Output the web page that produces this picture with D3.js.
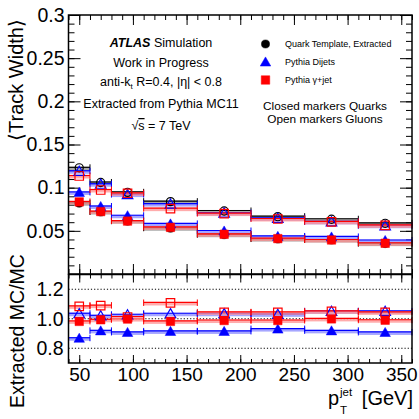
<!DOCTYPE html>
<html><head><meta charset="utf-8">
<script src="https://cdn.jsdelivr.net/npm/d3@7"></script>
<style>
body{margin:0;background:#fff;}
svg{display:block;font-family:"Liberation Sans",Arial,Helvetica,sans-serif;}
</style></head>
<body><svg id="c" width="419" height="419"></svg>
<script>
// ---- data ----
const binLo = [40, 60, 80, 110, 160, 210, 260, 310];
const binHi = [60, 80, 110, 160, 210, 260, 310, 360];
const binCenter = [50, 70, 95, 135, 185, 235, 285, 335];
// top panel: <Track Width>
const quarkExtracted = [0.082, 0.0718, 0.0612, 0.053, 0.0455, 0.0405, 0.0394, 0.0352];
const gluonExtracted = [0.123, 0.106, 0.0946, 0.0838, 0.073, 0.0664, 0.0634, 0.0587];
const quarkDijet = [0.0945, 0.0782, 0.0675, 0.058, 0.0498, 0.0435, 0.0429, 0.0388];
const gluonDijet = [0.119, 0.104, 0.092, 0.081, 0.0706, 0.0645, 0.0604, 0.0559];
const quarkGammaJet = [0.0835, 0.0723, 0.0613, 0.054, 0.046, 0.041, 0.0394, 0.0356];
const gluonGammaJet = [0.1135, 0.0973, 0.0935, 0.0757, 0.070, 0.0637, 0.0604, 0.0563];
// ratio panel: Extracted MC / MC
const ratioQuarkDijet = [0.868, 0.918, 0.907, 0.914, 0.914, 0.93, 0.918, 0.907];
const ratioGluonDijet = [1.034, 1.02, 1.027, 1.034, 1.034, 1.03, 1.05, 1.05];
const ratioQuarkGammaJet = [0.982, 0.993, 0.998, 0.982, 0.988, 0.988, 0.999, 0.99];
const ratioGluonGammaJet = [1.084, 1.089, 1.012, 1.107, 1.043, 1.043, 1.05, 1.043];
// ticks
const xTickLabels = [50, 100, 150, 200, 250, 300, 350];
const yTopTickLabels = ["0.05", "0.1", "0.15", "0.2", "0.25", "0.3"];
const yRatioTickLabels = ["0.8", "1.0", "1.2"];
const legendLabels = ["Quark Template, Extracted", "Pythia Dijets", "Pythia \u03b3+jet"];

// ---- layout ----
const svg = d3.select("#c");
const L = 68.5, R = 412, T1 = 15, B1 = 274, T2 = 274.5, B2 = 363;
const x = d3.scaleLinear().domain([40, 360]).range([L, R]);
const yT = d3.scaleLinear().domain([0, 0.3]).range([B1, T1]);
const yR = d3.scaleLinear().domain([0.7, 1.3]).range([B2, T2]);

const BLACK = "#000", BLUE = "#0000ff", RED = "#ff0000";
const LIGHT = {"#000": "#8c8c8c", "#0000ff": "#8888ff", "#ff0000": "#ff9090"};

function styleAxis(g) {
  g.select(".domain").remove();
  g.selectAll("line").attr("stroke", "#000").attr("stroke-width", 1);
  g.selectAll("text").attr("fill", "#000");
}
function range(a, b, s) { const r = []; for (let v = a; v <= b + 1e-9; v += s) r.push(+v.toFixed(4)); return r; }

// ---- axes: top panel ----
svg.append("g").attr("transform", `translate(${L},0)`)
  .call(d3.axisLeft(yT).tickValues(range(0.01, 0.29, 0.01)).tickSizeInner(-6).tickSizeOuter(0).tickFormat(""))
  .call(styleAxis);
svg.append("g").attr("transform", `translate(${L},0)`)
  .call(d3.axisLeft(yT).tickValues(yTopTickLabels.map(Number)).tickSizeInner(-12).tickSizeOuter(0)
    .tickPadding(4).tickFormat((d, i) => yTopTickLabels[i]))
  .call(styleAxis)
  .selectAll("text").attr("font-size", 19.5);
svg.append("g").attr("transform", `translate(${R},0)`)
  .call(d3.axisRight(yT).tickValues(range(0.01, 0.29, 0.01)).tickSizeInner(-6).tickSizeOuter(0).tickFormat(""))
  .call(styleAxis);
svg.append("g").attr("transform", `translate(${R},0)`)
  .call(d3.axisRight(yT).tickValues(yTopTickLabels.map(Number)).tickSizeInner(-12).tickSizeOuter(0).tickFormat(""))
  .call(styleAxis);
[[T1, d3.axisTop], [B1, d3.axisBottom]].forEach(([yy, ax]) => {
  svg.append("g").attr("transform", `translate(0,${yy})`)
    .call(ax(x).tickValues(range(40, 360, 10)).tickSizeInner(-5).tickSizeOuter(0).tickFormat(""))
    .call(styleAxis);
  svg.append("g").attr("transform", `translate(0,${yy})`)
    .call(ax(x).tickValues(xTickLabels).tickSizeInner(-10).tickSizeOuter(0).tickFormat(""))
    .call(styleAxis);
});
[[T2, d3.axisTop], [B2, d3.axisBottom]].forEach(([yy, ax], k) => {
  svg.append("g").attr("transform", `translate(0,${yy})`)
    .call(ax(x).tickValues(range(40, 360, 10)).tickSizeInner(-4).tickSizeOuter(0).tickFormat(""))
    .call(styleAxis);
  const g = svg.append("g").attr("transform", `translate(0,${yy})`)
    .call(ax(x).tickValues(xTickLabels).tickSizeInner(-8).tickSizeOuter(0).tickPadding(5)
      .tickFormat(k === 1 ? d3.format("d") : ""))
    .call(styleAxis);
  g.selectAll("text").attr("font-size", 19);
});
svg.append("g").attr("transform", `translate(${L},0)`)
  .call(d3.axisLeft(yR).tickValues(yRatioTickLabels.map(Number)).tickSize(0).tickPadding(5)
    .tickFormat((d, i) => yRatioTickLabels[i]))
  .call(styleAxis)
  .selectAll("text").attr("font-size", 19.5);
svg.append("g").selectAll("line").data(yRatioTickLabels.map(Number)).join("line")
  .attr("x1", L).attr("x2", R).attr("y1", d => yR(d)).attr("y2", d => yR(d))
  .attr("stroke", "#000").attr("stroke-width", 1).attr("stroke-dasharray", "1.2,2");

// ---- series drawing ----
function drawBars(yScale, vals, color) {
  const g = svg.append("g");
  const d = vals.map((v, i) => ({v, lo: binLo[i], hi: binHi[i]}));
  g.selectAll("rect").data(d).join("rect")
    .attr("x", e => x(e.lo)).attr("width", e => x(e.hi) - x(e.lo))
    .attr("y", e => yScale(e.v) - 1).attr("height", 3.5)
    .attr("fill", LIGHT[color]).attr("opacity", 0.75);
  g.selectAll("line.h").data(d).join("line").attr("class", "h")
    .attr("x1", e => x(e.lo)).attr("x2", e => x(e.hi))
    .attr("y1", e => yScale(e.v) - 0.5).attr("y2", e => yScale(e.v) - 0.5)
    .attr("stroke", color).attr("stroke-width", 1.2);
  const caps = [];
  d.forEach(e => { caps.push({xv: e.lo, v: e.v}); caps.push({xv: e.hi, v: e.v}); });
  g.selectAll("line.c").data(caps).join("line").attr("class", "c")
    .attr("x1", e => x(e.xv)).attr("x2", e => x(e.xv))
    .attr("y1", e => yScale(e.v) - 3.5).attr("y2", e => yScale(e.v) + 3)
    .attr("stroke", color).attr("stroke-width", 1);
}
const sym = {
  circle: d3.symbol().type(d3.symbolCircle).size(52),
  tri: d3.symbol().type(d3.symbolTriangle).size(48),
  square: d3.symbol().type(d3.symbolSquare).size(72)
};
function drawMarkers(yScale, vals, color, shape, open) {
  svg.append("g").selectAll("path").data(vals).join("path")
    .attr("transform", (v, i) => `translate(${x(binCenter[i])},${yScale(v) + (shape === "tri" ? 1 : 0)})`)
    .attr("d", sym[shape])
    .attr("fill", open ? "none" : color)
    .attr("stroke", color).attr("stroke-width", open ? 1.2 : 0.5);
}

drawBars(yT, gluonExtracted, BLACK);
drawBars(yT, quarkExtracted, BLACK);
drawBars(yT, gluonDijet, BLUE);
drawBars(yT, quarkDijet, BLUE);
drawBars(yT, gluonGammaJet, RED);
drawBars(yT, quarkGammaJet, RED);
drawMarkers(yT, gluonExtracted, BLACK, "circle", true);
drawMarkers(yT, quarkExtracted, BLACK, "circle", false);
drawMarkers(yT, gluonDijet, BLUE, "tri", true);
drawMarkers(yT, quarkDijet, BLUE, "tri", false);
drawMarkers(yT, gluonGammaJet, RED, "square", true);
drawMarkers(yT, quarkGammaJet, RED, "square", false);

drawBars(yR, ratioQuarkDijet, BLUE);
drawBars(yR, ratioGluonDijet, BLUE);
drawBars(yR, ratioQuarkGammaJet, RED);
drawBars(yR, ratioGluonGammaJet, RED);
drawMarkers(yR, ratioQuarkDijet, BLUE, "tri", false);
drawMarkers(yR, ratioGluonDijet, BLUE, "tri", true);
drawMarkers(yR, ratioQuarkGammaJet, RED, "square", false);
drawMarkers(yR, ratioGluonGammaJet, RED, "square", true);

svg.append("rect").attr("x", L).attr("y", T1).attr("width", R - L).attr("height", B1 - T1)
  .attr("fill", "none").attr("stroke", "#000").attr("stroke-width", 1.5);
svg.append("rect").attr("x", L).attr("y", T2).attr("width", R - L).attr("height", B2 - T2)
  .attr("fill", "none").attr("stroke", "#000").attr("stroke-width", 1.5);

// ---- text ----
const tx = svg.append("g").attr("font-size", 12.5).attr("text-anchor", "middle").attr("fill", "#000");
const t0 = tx.append("text").attr("x", 161).attr("y", 47);
t0.append("tspan").attr("font-weight", "bold").attr("font-style", "italic").text("ATLAS");
t0.append("tspan").text(" Simulation");
tx.append("text").attr("x", 161).attr("y", 67).text("Work in Progress");
const t2 = tx.append("text").attr("x", 161).attr("y", 86);
t2.append("tspan").text("anti-k");
t2.append("tspan").attr("font-size", 8).attr("dy", 3).text("t");
t2.append("tspan").attr("dy", -3).text(" R=0.4, |\u03b7| < 0.8");
const t4 = tx.append("text").attr("x", 161).attr("y", 130);
t4.append("tspan").text("\u221a");
t4.append("tspan").attr("text-decoration", "overline").style("text-decoration", "overline").text("s");
t4.append("tspan").text(" = 7 TeV");
tx.append("text").attr("x", 161).attr("y", 108).text("Extracted from Pythia MC11");
tx.append("text").attr("x", 325).attr("y", 110).attr("font-size", 11.8).text("Closed markers Quarks");
tx.append("text").attr("x", 325).attr("y", 123).attr("font-size", 11.8).text("Open markers Gluons");

const legShapes = [["circle", BLACK], ["tri", BLUE], ["square", RED]];
const legY = [44, 62, 80];
legShapes.forEach(([s, c], i) => {
  svg.append("path").attr("transform", `translate(265.5,${legY[i] + (s === "tri" ? 1 : 0)})`)
    .attr("d", sym[s]).attr("fill", c).attr("stroke", c).attr("stroke-width", 0.5);
  svg.append("text").attr("x", 285).attr("y", legY[i] + 3.2).attr("font-size", 9).text(legendLabels[i]);
});

// axis titles
svg.append("text").attr("transform", "translate(23,80) rotate(-90)").attr("text-anchor", "middle")
  .attr("font-size", 20).text("\u27e8Track Width\u27e9");
svg.append("text").attr("transform", "translate(24,331) rotate(-90)").attr("text-anchor", "middle")
  .attr("font-size", 19.5).text("Extracted MC/MC");
const xg = svg.append("g").attr("font-size", 20).attr("fill", "#000");
xg.append("text").attr("x", 328).attr("y", 405).text("p");
xg.append("text").attr("x", 340).attr("y", 396).attr("font-size", 11.5).text("jet");
xg.append("text").attr("x", 340).attr("y", 414).attr("font-size", 11.5).text("T");
xg.append("text").attr("x", 413).attr("y", 405).attr("text-anchor", "end").text("[GeV]");
</script></body></html>
